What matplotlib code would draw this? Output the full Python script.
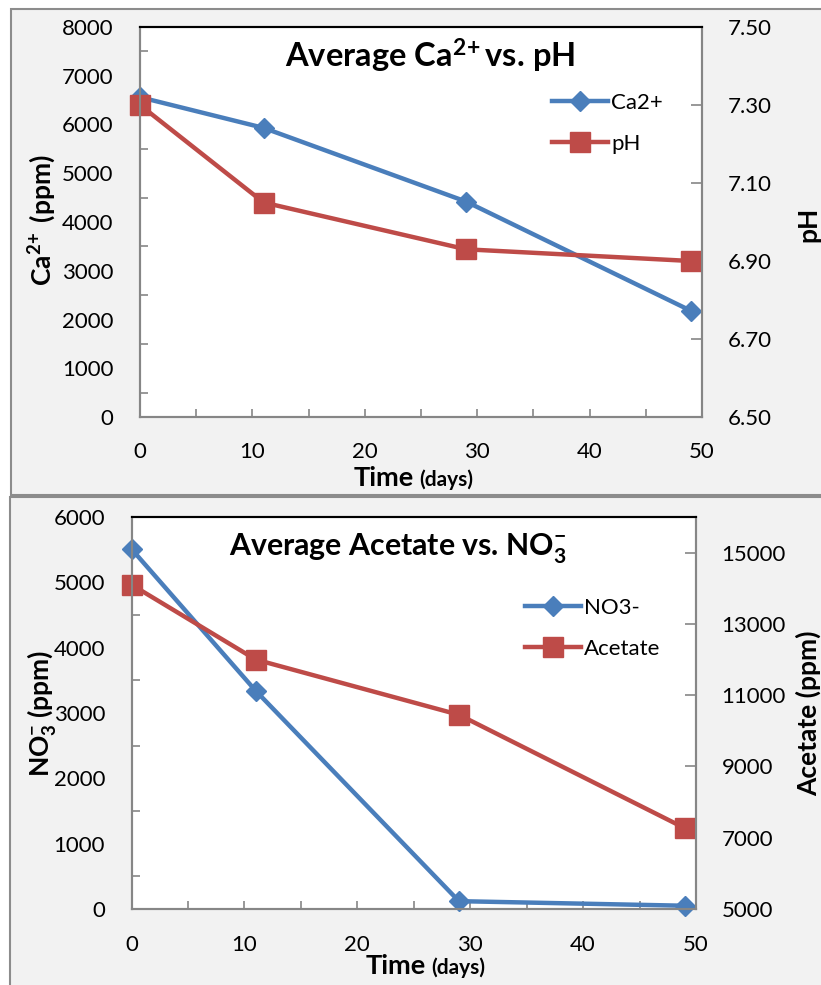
import matplotlib
matplotlib.use('Agg')
import matplotlib.pyplot as plt
from matplotlib.patches import Rectangle
from matplotlib.ticker import MultipleLocator, FormatStrFormatter

plt.rcParams['font.family'] = ['Lato', 'DejaVu Sans']
plt.rcParams['mathtext.fontset'] = 'custom'
plt.rcParams['mathtext.rm'] = 'Lato'
plt.rcParams['mathtext.bf'] = 'Lato:bold'
plt.rcParams['mathtext.default'] = 'bf'

# data
days = [0, 11, 29, 49]
ca = [6560, 5930, 4420, 2180]
ph = [7.30, 7.05, 6.93, 6.90]
no3 = [5510, 3340, 120, 50]
acetate = [14100, 12000, 10450, 7270]

W, H = 821, 985
BLUE, RED, GRAY = '#4A7EBB', '#BE4B48', '#868686'

fig = plt.figure(figsize=(W / 100, H / 100), dpi=100)
fx = lambda x: x / W
fy = lambda y: 1 - y / H

# chart-area boxes (Excel style)
for x0, y0, y1 in [(11, 9, 495), (10, 497, 1010)]:
    fig.patches.append(Rectangle((fx(x0), fy(y1)), 1.2, (y1 - y0) / H, transform=fig.transFigure,
                                 fc='#f2f2f2', ec='#8c8c8c', lw=1.5, zorder=-5))


def panel(box, left, right, lylim, lstep, rylim, rstep, rfmt, names, leg_xy, xpad):
    l, t, r, b = box
    ax = fig.add_axes([fx(l), fy(b), (r - l) / W, (b - t) / H])
    ax2 = ax.twinx()
    ax.set_facecolor('white')
    l1, = ax.plot(days, left, '-D', color=BLUE, lw=3.2, ms=10, mec=BLUE, clip_on=False, label=names[0])
    l2, = ax2.plot(days, right, '-s', color=RED, lw=3.2, ms=14, mec=RED, clip_on=False, label=names[1])
    ax.set_xlim(0, 50); ax.set_ylim(*lylim); ax2.set_ylim(*rylim)
    ax.xaxis.set_major_locator(MultipleLocator(10)); ax.xaxis.set_minor_locator(MultipleLocator(5))
    ax.yaxis.set_major_locator(MultipleLocator(lstep))
    ax.yaxis.set_minor_locator(MultipleLocator(lstep / 2))
    # right axis ticks start at the axis minimum (6.50, 6.70 ... / 5000, 7000 ...)
    ax2.yaxis.set_major_locator(MultipleLocator(rstep, offset=rylim[0] % rstep))
    if rfmt: ax2.yaxis.set_major_formatter(FormatStrFormatter(rfmt))
    ax.tick_params(axis='x', which='both', direction='in', length=6, color=GRAY, width=1.2,
                   labelsize=16, pad=xpad)
    ax.tick_params(axis='y', which='major', length=0, labelsize=16, pad=19)
    ax.tick_params(axis='y', which='minor', direction='in', length=6, color=GRAY, width=1.2)
    ax2.tick_params(axis='y', direction='in', length=8, color=GRAY, width=1.2, labelsize=16, pad=18.5)
    for a in (ax, ax2):
        for s in ('left', 'bottom', 'right'):
            a.spines[s].set_color(GRAY); a.spines[s].set_linewidth(1.5)
        a.spines['top'].set_color('black'); a.spines['top'].set_linewidth(1.5)
    fig.legend(handles=[l1, l2], loc='upper left', bbox_to_anchor=(fx(leg_xy[0]), fy(leg_xy[1])),
               bbox_transform=fig.transFigure, frameon=False, fontsize=16, borderpad=0,
               borderaxespad=0, handlelength=2.5, handletextpad=0.15, labelspacing=0.95)
    return ax, ax2


panel((140, 27, 702, 417), ca, ph, (0, 8000), 1000, (6.5, 7.5), 0.2, '%.2f',
      ['Ca2+', 'pH'], (552, 93), 18)
panel((131.5, 517, 696, 909), no3, acetate, (0, 6000), 1000, (5000, 16000), 2000, None,
      ['NO3-', 'Acetate'], (525, 598), 19)

# titles
fig.text(fx(430), fy(68), r'Average Ca$^{2\!+}$vs. pH', ha='center', va='baseline',
         fontsize=23.5, fontweight='bold')
fig.text(fx(398), fy(555), r'Average Acetate vs. NO$_3^{-}$', ha='center', va='baseline',
         fontsize=21.8, fontweight='bold')

# axis labels
fig.text(fx(42), fy(220), r'Ca$^{2\!+}$ (ppm)', rotation=90, ha='center', va='center',
         fontsize=19, fontweight='bold')
fig.text(fx(808), fy(224), 'pH', rotation=90, ha='center', va='center',
         fontsize=19, fontweight='bold')
fig.text(fx(42), fy(713), r'NO$_3^{-}$ (ppm)', rotation=90, ha='center', va='center',
         fontsize=19, fontweight='bold')
fig.text(fx(808), fy(713), 'Acetate (ppm)', rotation=90, ha='center', va='center',
         fontsize=19, fontweight='bold')
for xc, yb in [(414, 486), (426, 974)]:
    fig.text(fx(xc), fy(yb), 'Time', ha='right', va='baseline', fontsize=19.5, fontweight='bold')
    fig.text(fx(xc + 5), fy(yb), '(days)', ha='left', va='baseline', fontsize=15, fontweight='bold')

fig.savefig('out.png', dpi=100)
